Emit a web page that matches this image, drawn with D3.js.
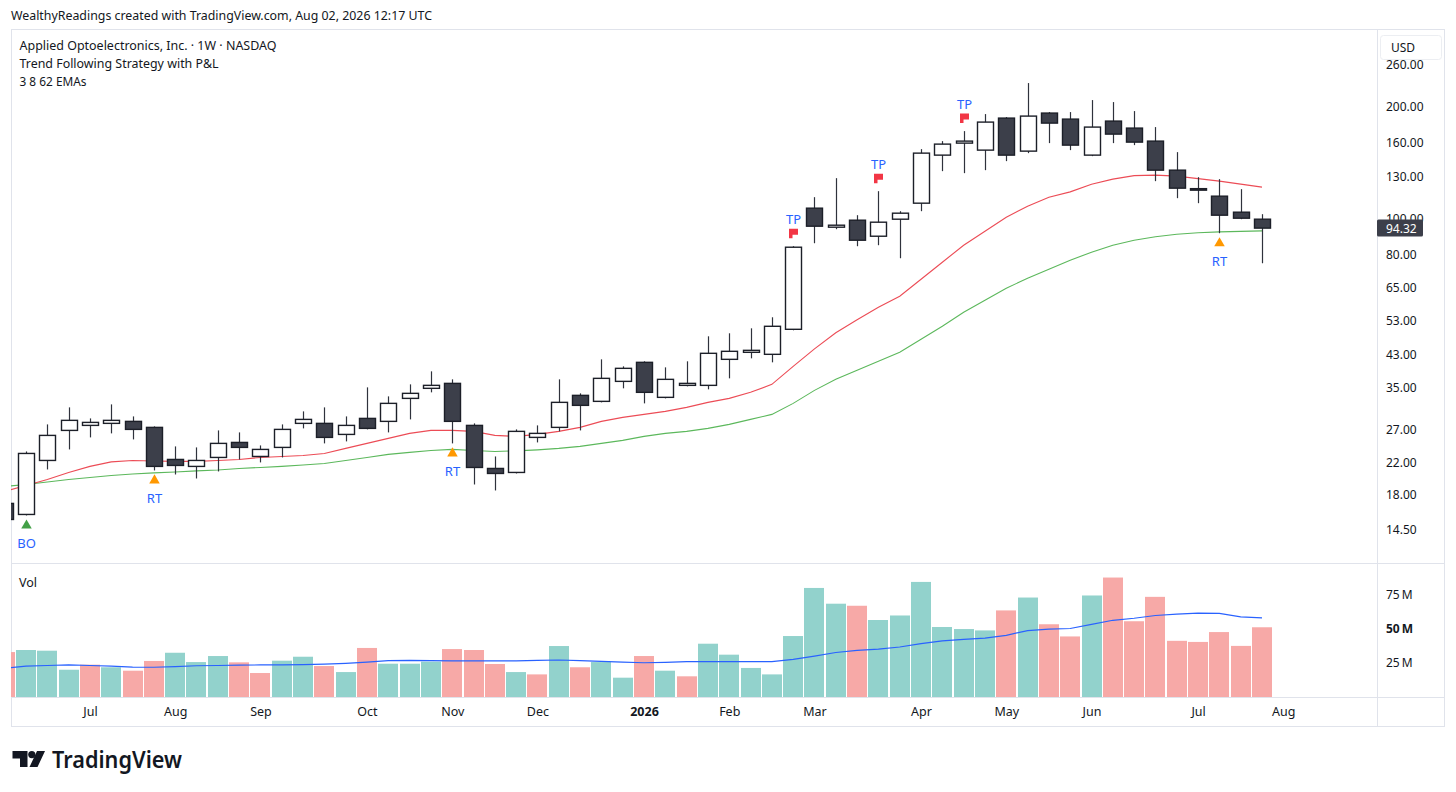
<!DOCTYPE html>
<html>
<head>
<meta charset="utf-8">
<script src="https://cdn.jsdelivr.net/npm/d3@7"></script>
<style>
  body { margin: 0; background: #fff; }
  svg { display: block; }
  text { font-family: 'Noto Sans', 'Open Sans', sans-serif; fill: #131722; }
</style>
</head>
<body>
<svg id="chart" width="1456" height="792"></svg>
<script>
// ==============================
// DATA (weekly bars)
// ==============================
const opens = [17.07, 15.94, 22.29, 26.86, 27.71, 28.06, 28.41, 27.37, 22.43, 21.48,
  22.71, 24.93, 22.85, 24.17, 28.06, 28.06, 26.20, 28.94, 28.41, 32.77,
  34.88, 35.97, 27.71, 21.21, 20.69, 25.72, 27.37, 33.39, 32.17, 36.42,
  40.99, 32.98, 35.53, 35.53, 41.76, 43.62, 43.08, 50.32, 106.75, 94.86,
  99.07, 89.69, 99.69, 110.11, 148.39, 159.88, 153.07, 186.74, 152.12, 192.65,
  185.58, 148.39, 183.31, 175.50, 161.88, 135.17, 120.50, 115.01, 104.12, 99.69];
const highs = [17.39, 23.57, 27.88, 30.99, 28.94, 31.57, 29.30, 27.54, 24.32, 24.17,
  26.86, 26.53, 24.47, 27.88, 30.23, 30.99, 29.30, 35.09, 33.18, 35.75,
  38.76, 36.88, 28.06, 22.85, 27.03, 27.71, 36.88, 33.81, 41.76, 39.98,
  41.25, 39.73, 41.25, 48.18, 49.09, 50.63, 54.22, 84.29, 114.30, 128.62,
  102.20, 118.64, 104.77, 154.02, 161.88, 172.26, 191.46, 187.92, 232.12, 193.85,
  193.85, 208.86, 206.27, 195.06, 176.61, 151.18, 129.42, 127.83, 120.12, 102.84];
const lows = [15.17, 15.84, 21.08, 23.87, 25.72, 26.37, 25.40, 20.95, 20.43, 19.93,
  20.82, 22.43, 22.02, 22.71, 27.20, 24.78, 25.09, 27.03, 26.53, 28.76,
  34.02, 24.78, 19.20, 18.50, 20.56, 24.93, 26.70, 26.86, 31.97, 34.88,
  31.77, 32.77, 35.31, 34.66, 37.11, 42.02, 40.99, 50.01, 85.87, 93.68,
  84.29, 84.82, 78.23, 104.77, 134.34, 132.68, 135.17, 142.96, 150.24, 159.88,
  153.07, 147.46, 159.88, 157.90, 126.25, 113.59, 110.11, 91.38, 99.69, 75.83];
const closes = [15.45, 23.28, 26.04, 28.59, 28.23, 28.59, 27.03, 21.48, 21.61, 22.29,
  24.78, 24.17, 23.87, 27.03, 28.76, 25.72, 27.71, 27.20, 31.77, 33.81,
  35.53, 28.41, 21.34, 20.56, 26.70, 26.37, 31.97, 31.38, 37.11, 39.49,
  34.02, 36.88, 35.97, 43.35, 43.89, 44.16, 51.27, 83.77, 95.45, 96.04,
  87.49, 97.85, 103.48, 150.24, 158.89, 161.88, 182.17, 148.39, 189.08, 181.04,
  157.90, 176.61, 169.08, 160.88, 135.17, 120.88, 119.75, 102.20, 100.31, 94.32];

// EMA lines (fast red, slow green)
const emaFast = [18.39, 19.09, 19.81, 20.69, 21.48, 22.09, 22.29, 22.22, 22.16, 22.16,
  22.29, 22.43, 22.71, 22.85, 22.99, 23.28, 24.02, 24.78, 25.56, 26.37,
  26.86, 26.86, 26.70, 26.04, 25.88, 26.20, 26.70, 27.37, 28.41, 29.12,
  29.67, 30.23, 30.99, 31.97, 32.77, 34.02, 35.75, 39.98, 44.58, 49.24,
  53.38, 57.69, 61.77, 68.66, 76.31, 84.82, 92.53, 100.94, 108.08, 114.30,
  118.13, 123.91, 127.83, 130.63, 131.05, 130.23, 128.22, 126.25, 123.91, 121.63];
const emaSlow = [18.97, 19.20, 19.50, 19.81, 20.06, 20.31, 20.50, 20.63, 20.75, 20.89,
  21.01, 21.21, 21.34, 21.48, 21.67, 21.88, 22.29, 22.71, 23.14, 23.43,
  23.72, 23.87, 23.72, 23.57, 23.65, 23.80, 24.02, 24.32, 24.78, 25.25,
  25.88, 26.37, 26.70, 27.20, 27.88, 28.76, 29.67, 31.77, 34.44, 36.88,
  39.00, 41.25, 43.62, 47.29, 51.27, 55.93, 60.26, 64.93, 69.09, 73.07,
  77.27, 81.21, 84.82, 87.49, 89.41, 90.82, 91.67, 92.12, 92.41, 92.70];

// volume in millions, up/down colour per bar, and its moving average
const volumes = [32.8, 34.3, 33.8, 19.9, 23.6, 21.7, 19.2, 26.3, 32.3, 25.5,
  29.9, 25.3, 17.5, 26.5, 29.4, 22.6, 18.2, 35.8, 24.3, 24.3,
  25.8, 35.0, 34.3, 24.1, 18.2, 16.5, 37.2, 21.7, 25.5, 14.1,
  29.9, 19.2, 15.1, 38.9, 30.9, 21.2, 16.5, 44.5, 79.6, 68.1,
  66.6, 56.2, 59.5, 84.0, 51.1, 49.6, 48.6, 63.2, 72.6, 53.1,
  44.2, 74.1, 87.2, 55.3, 73.1, 41.0, 40.2, 47.4, 37.3, 50.9];
const volDir = ['d', 'u', 'u', 'u', 'd', 'u', 'd', 'd', 'u', 'u',
  'u', 'd', 'd', 'u', 'u', 'd', 'u', 'd', 'u', 'u',
  'u', 'd', 'd', 'd', 'u', 'd', 'u', 'd', 'u', 'u',
  'd', 'u', 'd', 'u', 'u', 'u', 'u', 'u', 'u', 'u',
  'd', 'u', 'u', 'u', 'u', 'u', 'u', 'd', 'u', 'd',
  'd', 'u', 'd', 'd', 'd', 'd', 'd', 'd', 'd', 'd'];
const volMA = [21.0, 22.5, 23.0, 23.4, 23.0, 22.5, 21.8, 21.7, 22.2, 22.8,
  23.0, 23.2, 23.4, 23.5, 23.7, 24.0, 24.6, 25.5, 26.5, 26.8,
  26.5, 26.3, 26.3, 26.3, 26.3, 26.7, 27.0, 26.5, 26.0, 25.5,
  25.0, 25.3, 25.8, 25.8, 25.8, 25.8, 25.8, 27.5, 29.9, 32.5,
  34.0, 35.0, 36.5, 39.0, 41.0, 42.0, 43.0, 45.0, 48.5, 49.5,
  50.0, 53.0, 56.0, 57.5, 59.5, 60.5, 61.2, 61.0, 58.5, 57.8];

// strategy signals
const signalBars = [1, 7, 21, 37, 41, 45, 57];
const signalTypes = ['BO', 'RT', 'RT', 'TP', 'TP', 'TP', 'RT'];

// axes
const priceTicks = [14.5, 18, 22, 27, 35, 43, 53, 65, 80, 100, 130, 160, 200, 260];
const volTicks = [25, 50, 75];
const monthLabels = ['Jul', 'Aug', 'Sep', 'Oct', 'Nov', 'Dec', '2026', 'Feb', 'Mar', 'Apr', 'May', 'Jun', 'Jul', 'Aug'];
const monthBars = [4, 8, 12, 17, 21, 25, 30, 34, 38, 43, 47, 51, 56, 60];
const lastPrice = 94.32;

// ==============================
// LAYOUT & SCALES
// ==============================
const L = 11, R = 1377, RR = 1445, TOP = 29, SPLIT = 563, VB = 697, BOT = 727;

const svg = d3.select('#chart');

const x = d3.scaleLinear().domain([0, 59]).range([4.7, 1262]);
const y = d3.scaleLog().domain([14.5, 260]).range([529.7, 64.8]);
const yVol = d3.scaleLinear().domain([0, 100]).range([VB, 560]);

const upCol = '#92d2cc', dnCol = '#f7a9a7';
const candleDark = '#3c3f4a', candleLine = '#1c1f28';

// clip paths
const defs = svg.append('defs');
defs.append('clipPath').attr('id', 'clipPrice')
  .append('rect').attr('x', L).attr('y', TOP).attr('width', R - L).attr('height', SPLIT - TOP);
defs.append('clipPath').attr('id', 'clipVol')
  .append('rect').attr('x', L).attr('y', SPLIT).attr('width', R - L).attr('height', VB - SPLIT);

// ==============================
// FRAME
// ==============================
svg.append('text')
  .attr('x', 11).attr('y', 20)
  .attr('font-size', 12.5)
  .attr('textLength', 421).attr('lengthAdjust', 'spacingAndGlyphs')
  .text('WealthyReadings created with TradingView.com, Aug 02, 2026 12:17 UTC');

const frame = svg.append('g').attr('stroke', '#e0e3eb').attr('fill', 'none');
frame.append('rect').attr('x', L + 0.5).attr('y', TOP + 0.5).attr('width', RR - L - 1).attr('height', BOT - TOP - 1);
frame.append('line').attr('x1', R + 0.5).attr('x2', R + 0.5).attr('y1', TOP).attr('y2', BOT);
frame.append('line').attr('x1', L).attr('x2', RR).attr('y1', SPLIT + 0.5).attr('y2', SPLIT + 0.5);
frame.append('line').attr('x1', L).attr('x2', RR).attr('y1', VB + 0.5).attr('y2', VB + 0.5);

// ==============================
// VOLUME PANE
// ==============================
const volG = svg.append('g').attr('clip-path', 'url(#clipVol)');
volG.selectAll('rect')
  .data(volumes)
  .join('rect')
  .attr('x', (d, i) => Math.round(x(i) - 10))
  .attr('width', 20)
  .attr('y', (d) => yVol(d))
  .attr('height', (d) => VB - yVol(d))
  .attr('fill', (d, i) => (volDir[i] === 'u' ? upCol : dnCol));

volG.append('path')
  .datum(volMA)
  .attr('fill', 'none')
  .attr('stroke', '#2962ff')
  .attr('stroke-width', 1.2)
  .attr('d', d3.line().x((d, i) => x(i)).y((d) => yVol(d)));

svg.append('text').attr('x', 19).attr('y', 587).attr('font-size', 12.5).text('Vol');

// ==============================
// PRICE PANE
// ==============================
const priceG = svg.append('g').attr('clip-path', 'url(#clipPrice)');

const emaLine = d3.line().x((d, i) => x(i)).y((d) => y(d));
priceG.append('path').datum(emaSlow)
  .attr('fill', 'none').attr('stroke', '#5cb85c').attr('stroke-width', 1.1).attr('d', emaLine);
priceG.append('path').datum(emaFast)
  .attr('fill', 'none').attr('stroke', '#ec4c56').attr('stroke-width', 1.1).attr('d', emaLine);

const bars = d3.range(opens.length);
const cx = (i) => Math.round(x(i)) + 0.5;

priceG.selectAll('line.wick')
  .data(bars)
  .join('line')
  .attr('class', 'wick')
  .attr('x1', cx).attr('x2', cx)
  .attr('y1', (i) => y(highs[i]))
  .attr('y2', (i) => y(lows[i]))
  .attr('stroke', '#2f323c')
  .attr('stroke-width', 1.2);

priceG.selectAll('rect.body')
  .data(bars)
  .join('rect')
  .attr('class', 'body')
  .attr('x', (i) => cx(i) - 8)
  .attr('width', 16)
  .attr('y', (i) => y(Math.max(opens[i], closes[i])))
  .attr('height', (i) => Math.max(1.5, Math.abs(y(opens[i]) - y(closes[i]))))
  .attr('fill', (i) => (closes[i] < opens[i] ? candleDark : '#ffffff'))
  .attr('stroke', candleLine)
  .attr('stroke-width', 1.4);

// signals
const sig = priceG.selectAll('g.sig')
  .data(signalBars.map((b, k) => ({ b, t: signalTypes[k] })))
  .join('g')
  .attr('class', 'sig')
  .attr('transform', (d) => `translate(${cx(d.b)},0)`);

sig.filter((d) => d.t !== 'TP')
  .append('path')
  .attr('transform', (d) => `translate(0,${y(lows[d.b]) + 10})`)
  .attr('d', d3.symbol(d3.symbolTriangle, 48))
  .attr('fill', (d) => (d.t === 'BO' ? '#43a047' : '#ff9800'));

sig.filter((d) => d.t !== 'TP')
  .append('text')
  .attr('y', (d) => y(lows[d.b]) + 33)
  .attr('text-anchor', 'middle')
  .attr('font-size', 13)
  .style('fill', '#2962ff')
  .text((d) => d.t);

sig.filter((d) => d.t === 'TP')
  .append('path')
  .attr('transform', (d) => `translate(0,${y(highs[d.b]) - 13})`)
  .attr('d', 'M-4.5,-4.5H4.5V1.5H-1V5H-4.5Z')
  .attr('fill', '#f23645');

sig.filter((d) => d.t === 'TP')
  .append('text')
  .attr('y', (d) => y(highs[d.b]) - 22)
  .attr('text-anchor', 'middle')
  .attr('font-size', 13)
  .style('fill', '#2962ff')
  .text((d) => d.t);

// legend
const legend = svg.append('g').attr('font-size', 13);
legend.append('text').attr('x', 19.5).attr('y', 50)
  .attr('textLength', 257).attr('lengthAdjust', 'spacingAndGlyphs')
  .text('Applied Optoelectronics, Inc. · 1W · NASDAQ');
legend.append('text').attr('x', 19.5).attr('y', 68)
  .attr('textLength', 199).attr('lengthAdjust', 'spacingAndGlyphs')
  .text('Trend Following Strategy with P&L');
legend.append('text').attr('x', 19.5).attr('y', 86)
  .attr('textLength', 67).attr('lengthAdjust', 'spacingAndGlyphs')
  .text('3 8 62 EMAs');

// ==============================
// AXES
// ==============================
const priceAxis = svg.append('g')
  .attr('transform', `translate(${R},0)`)
  .call(d3.axisRight(y).tickValues(priceTicks).tickFormat(d3.format('.2f')).tickSize(0).tickPadding(9));
priceAxis.select('.domain').remove();
priceAxis.selectAll('text').attr('font-size', 12).attr('font-family', "'Noto Sans', sans-serif").style('fill', '#131722');

const volAxis = svg.append('g')
  .attr('transform', `translate(${R},0)`)
  .call(d3.axisRight(yVol).tickValues(volTicks).tickFormat((d) => `${d}\u2009M`).tickSize(0).tickPadding(9));
volAxis.select('.domain').remove();
volAxis.selectAll('text').attr('font-size', 12).attr('font-family', "'Noto Sans', sans-serif")
  .attr('font-weight', (d) => (d === 50 ? 700 : 400)).style('fill', '#131722');

const timeAxis = svg.append('g')
  .attr('transform', `translate(0,${VB})`)
  .call(d3.axisBottom(x).tickValues(monthBars).tickFormat((d, i) => monthLabels[i]).tickSize(0).tickPadding(10));
timeAxis.select('.domain').remove();
timeAxis.selectAll('text').attr('font-size', 12.5).attr('font-family', "'Noto Sans', sans-serif")
  .attr('font-weight', (d, i) => (monthLabels[i] === '2026' ? 700 : 400)).style('fill', '#131722');

// USD box covers the top of the price scale
svg.append('rect').attr('x', 1380.5).attr('y', 35.5).attr('width', 61).attr('height', 24).attr('rx', 3)
  .attr('fill', '#fff').attr('stroke', '#eceef2');
svg.append('text').attr('x', 1391).attr('y', 52).attr('font-size', 12).text('USD');

// last price tag
svg.append('rect').attr('x', R).attr('y', y(lastPrice) - 8.5).attr('width', 46).attr('height', 17).attr('rx', 1.5)
  .attr('fill', '#3c3f4a');
svg.append('text').attr('x', 1386).attr('y', y(lastPrice) + 4.5).attr('font-size', 12)
  .style('fill', '#ffffff').text(lastPrice.toFixed(2));

// ==============================
// TRADINGVIEW LOGO
// ==============================
const logo = svg.append('g').attr('fill', '#131722');
logo.append('path').attr('d', 'M12.5,751H27.5V767H20V758.5H12.5Z');
logo.append('circle').attr('cx', 31.8).attr('cy', 754.6).attr('r', 3.6);
logo.append('path').attr('d', 'M37,751H45L37.5,767H29.5Z');
logo.append('text').attr('x', 52).attr('y', 768)
  .attr('font-family', 'Inter, sans-serif').attr('font-weight', 600).attr('font-size', 22.5)
  .attr('textLength', 130).attr('lengthAdjust', 'spacingAndGlyphs')
  .text('TradingView');
</script>
</body>
</html>
